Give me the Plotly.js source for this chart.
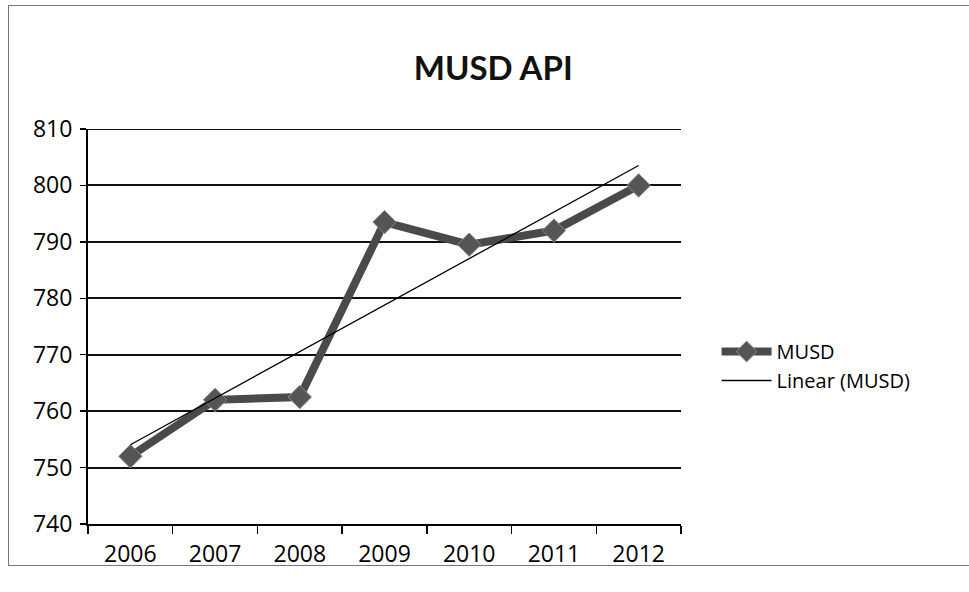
<!DOCTYPE html>
<html>
<head>
<meta charset="utf-8">
<script src="https://cdn.plot.ly/plotly-3.0.1.min.js"></script>
<style>
html,body{margin:0;padding:0;background:#fff;}
#frame{position:absolute;left:8px;top:5px;width:970px;height:561px;border:1.5px solid #777;box-sizing:border-box;}
#chart{position:absolute;left:0;top:0;width:969px;height:592px;}
</style>
</head>
<body>
<div id="frame"></div>
<div id="chart"></div>
<script>
const years = ['2006','2007','2008','2009','2010','2011','2012'];
const musd = [752, 762, 762.5, 793.5, 789.5, 792, 800];
const yTicks = [740, 750, 760, 770, 780, 790, 800, 810];

// least-squares linear trend computed from the series
const n = musd.length;
const xs = musd.map((_, i) => i);
const mx = xs.reduce((a, b) => a + b, 0) / n;
const my = musd.reduce((a, b) => a + b, 0) / n;
let sxy = 0, sxx = 0;
for (let i = 0; i < n; i++) { sxy += (xs[i] - mx) * (musd[i] - my); sxx += (xs[i] - mx) ** 2; }
const slope = sxy / sxx, icpt = my - slope * mx;
const trend = xs.map(x => icpt + slope * x);

const font = '"Open Sans", Lato, sans-serif';
const yTop = yTicks[yTicks.length - 1];

const traces = [
  {
    x: years, y: musd, name: 'MUSD', type: 'scatter', mode: 'lines+markers',
    line: {color: '#4a4a4a', width: 8},
    marker: {symbol: 'diamond', size: 18, color: '#555555', line: {color: '#888', width: 1}}
  },
  {
    x: years, y: trend, name: 'Linear (MUSD)', type: 'scatter', mode: 'lines',
    line: {color: '#000', width: 1.3}
  }
];

const layout = {
  width: 969, height: 592,
  paper_bgcolor: 'rgba(0,0,0,0)', plot_bgcolor: 'rgba(0,0,0,0)',
  margin: {l: 88, r: 288, t: 129, b: 68},
  font: {family: font, color: '#000', size: 18},
  title: {text: '<b>MUSD API</b>', x: 0.509, xref: 'container', xanchor: 'center',
          y: 0.885, yref: 'container', yanchor: 'middle',
          font: {family: 'Lato, sans-serif', size: 33, color: '#111'}},
  xaxis: {
    type: 'category', categoryorder: 'array', categoryarray: years,
    range: [-0.5, 6.5], tickson: 'boundaries',
    ticks: 'outside', ticklen: 8, tickwidth: 1.5, tickcolor: '#000',
    showline: true, linecolor: '#000', linewidth: 2,
    showgrid: false, zeroline: false,
    tickfont: {family: font, size: 23, color: '#000'}, ticklabelstandoff: 8
  },
  yaxis: {
    range: [yTicks[0], yTop], tickvals: yTicks,
    ticks: 'outside', ticklen: 6, tickwidth: 1.5, tickcolor: '#000',
    showline: true, linecolor: '#000', linewidth: 2,
    showgrid: true, gridcolor: '#111', gridwidth: 2, zeroline: false,
    tickfont: {family: font, size: 23, color: '#000'}, ticklabelstandoff: 3
  },
  shapes: [
    {type: 'line', xref: 'paper', x0: 0, x1: 1, yref: 'y', y0: yTop, y1: yTop,
     line: {color: '#111', width: 2}, layer: 'below'}
  ],
  showlegend: true,
  legend: {x: 1.06, xanchor: 'left', y: 0.40, yanchor: 'middle',
           font: {family: font, size: 20, color: '#000'},
           bgcolor: 'rgba(0,0,0,0)', itemwidth: 50, tracegroupgap: 10}
};

Plotly.newPlot('chart', traces, layout, {displayModeBar: false, staticPlot: true});
</script>
</body>
</html>
